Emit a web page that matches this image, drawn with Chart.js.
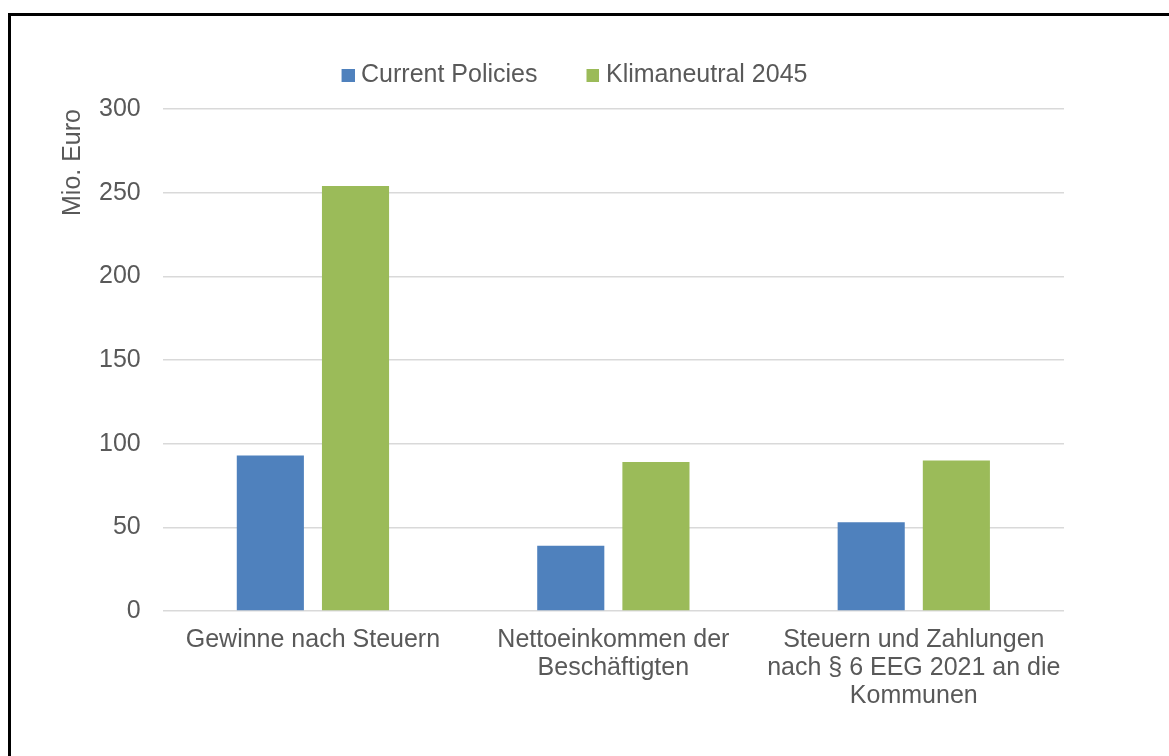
<!DOCTYPE html>
<html>
<head>
<meta charset="utf-8">
<title>Mio. Euro</title>
<script src="https://cdn.jsdelivr.net/npm/chart.js@4.4.1/dist/chart.umd.min.js"></script>
<style>
    html, body { margin: 0; padding: 0; background: #fff; overflow: hidden; }
    /* the black frame runs off the right and bottom edge of the shot */
    #frame { position: absolute; left: 8px; top: 13px; width: 1200px; height: 800px; border: 3px solid #000; box-sizing: border-box; }
    #wrap { position: absolute; left: 0; top: 0; width: 1169px; height: 756px; }
</style>
</head>
<body>
<div id="frame"></div>
<div id="wrap"><canvas id="chart"></canvas></div>
<script>
// Data
const categories = [
    'Gewinne nach Steuern',
    ['Nettoeinkommen der', 'Beschäftigten'],
    ['Steuern und Zahlungen', 'nach § 6 EEG 2021 an die', 'Kommunen']
];
const seriesNames = ['Current Policies', 'Klimaneutral 2045'];
const currentPolicies = [93, 39, 53];
const klimaneutral2045 = [254, 89, 90];
const yTicks = [0, 50, 100, 150, 200, 250, 300];
const yTitle = 'Mio. Euro';

const TEXT = '#595959';
Chart.defaults.font.family = '"Liberation Sans", Arial, sans-serif';
Chart.defaults.font.size = 25;
Chart.defaults.color = TEXT;

// Excel centres the legend over the whole frame, not over the plot,
// and sits it closer to the top than Chart.js does
const LEGEND_CENTRE = 571.5;
const LEGEND_ROW_TOP = 63;
const legendNudge = {
    id: 'legendNudge',
    afterLayout(chart) {
        var lg = chart.legend;
        var dx = LEGEND_CENTRE - (lg.left + lg.right) / 2;
        var dy = LEGEND_ROW_TOP - (lg.top + lg.options.labels.padding);
        lg.left += dx;
        lg.right += dx;
        lg.top += dy;
        lg.bottom += dy;
    }
};

// small square pushed to the right of a wider image, so the text sits
// close to the swatch like in Excel
function legendSwatch(colour) {
    var c = document.createElement('canvas');
    c.width = 25;
    c.height = 13;
    var g = c.getContext('2d');
    g.fillStyle = colour;
    g.fillRect(12, 0, 13, 13);
    return c;
}

var barData = {
    labels: categories,
    datasets: [{
        label: seriesNames[0],
        data: currentPolicies,
        backgroundColor: '#4f81bd',
    }, {
        label: seriesNames[1],
        data: klimaneutral2045,
        backgroundColor: '#9bbb59',
    }]
};

var barOptions = {
    responsive: true,
    maintainAspectRatio: false,
    animation: false,
    datasets: {
        bar: {
            categoryPercentage: 0.567,
            barPercentage: 0.788,
        }
    },
    layout: {
        padding: { left: 59, right: 105, top: 31, bottom: 31 }
    },
    plugins: {
        legend: {
            position: 'top',
            labels: {
                boxWidth: 13,
                boxHeight: 13,
                padding: 43,
                color: TEXT,
                font: { size: 25 },
                usePointStyle: true,
                generateLabels: function (chart) {
                    var items = Chart.defaults.plugins.legend.labels.generateLabels(chart);
                    items.forEach(function (item) {
                        item.pointStyle = legendSwatch(item.fillStyle);
                    });
                    return items;
                }
            }
        },
        tooltip: { enabled: false },
    },
    scales: {
        x: {
            grid: { display: false, drawTicks: false },
            border: { display: false },
            ticks: {
                color: TEXT,
                font: { size: 25, lineHeight: 1.12 },
                padding: 15,
                maxRotation: 0,
                autoSkip: false,
            }
        },
        y: {
            min: yTicks[0],
            max: yTicks[yTicks.length - 1],
            grid: { color: '#d9d9d9', lineWidth: 1.5, drawTicks: false },
            border: { display: false },
            ticks: {
                stepSize: yTicks[1] - yTicks[0],
                padding: 22,
                color: TEXT,
                font: { size: 25 },
            },
            title: {
                display: true,
                text: yTitle,
                align: 'end',
                color: TEXT,
                font: { size: 25, lineHeight: '8px' },
                padding: { top: 10, bottom: 0 },
            }
        }
    }
};

new Chart(document.getElementById('chart'), {
    type: 'bar',
    data: barData,
    options: barOptions,
    plugins: [legendNudge],
});
</script>
</body>
</html>
